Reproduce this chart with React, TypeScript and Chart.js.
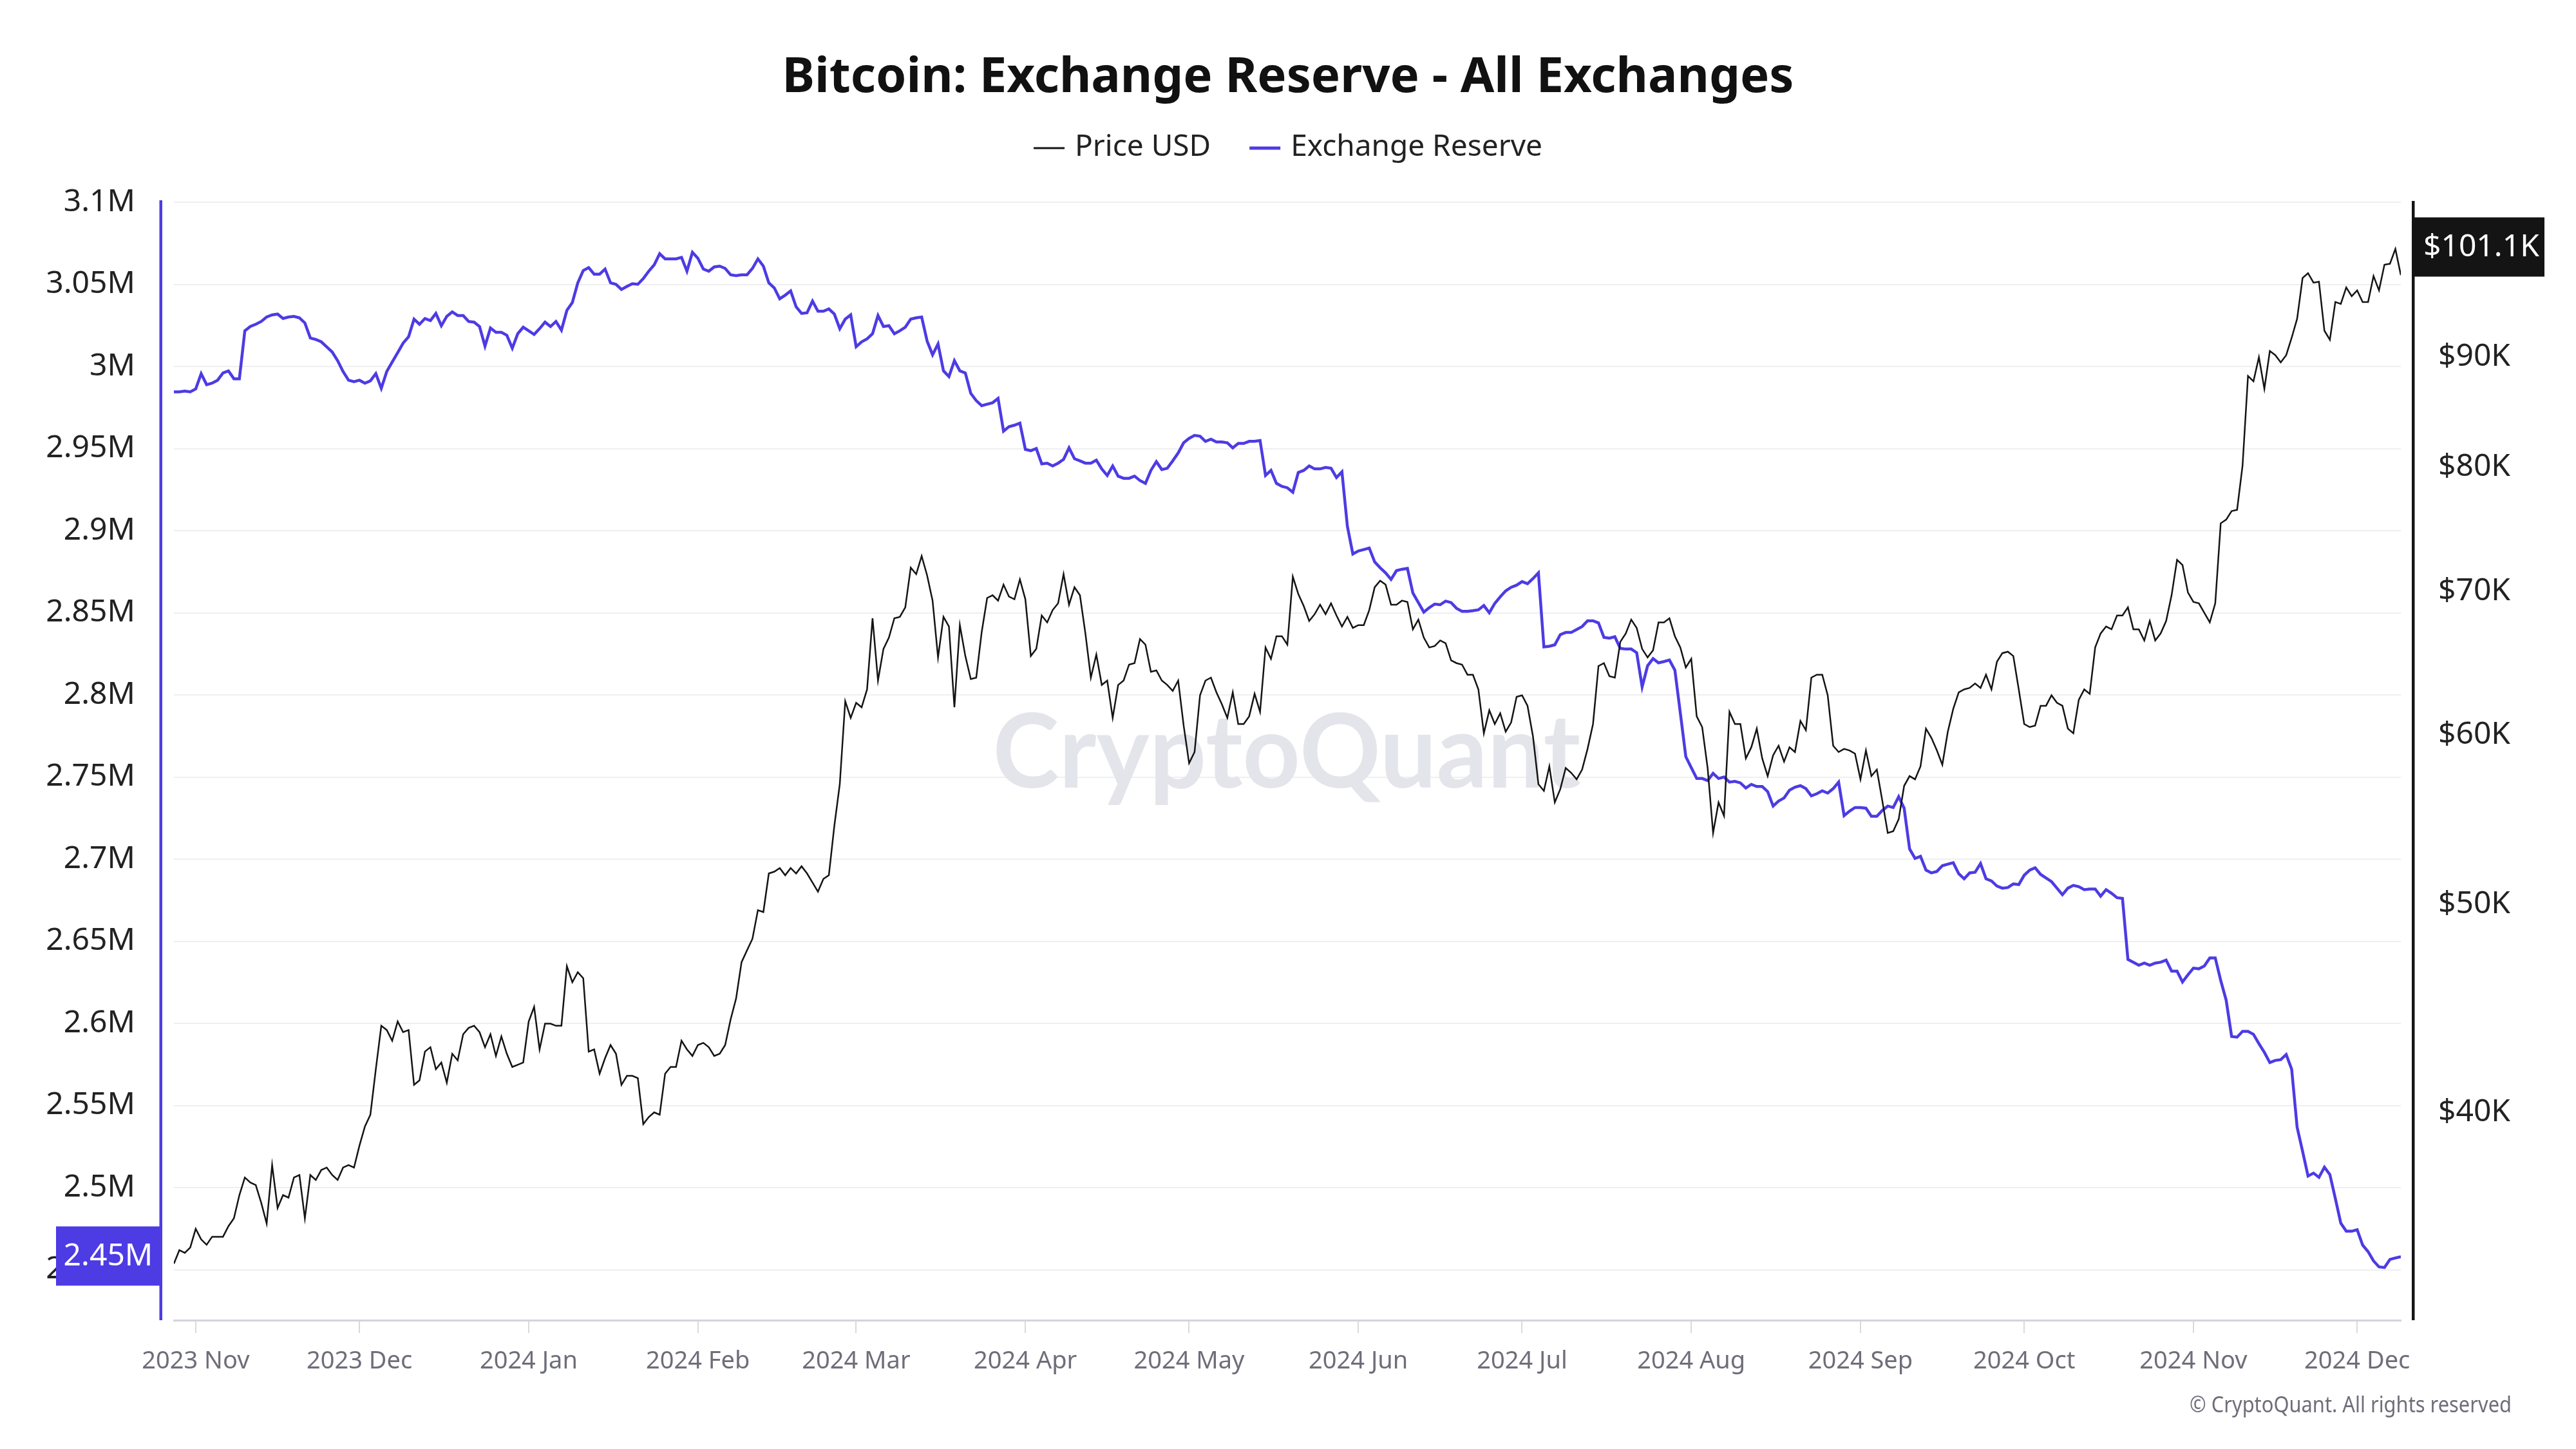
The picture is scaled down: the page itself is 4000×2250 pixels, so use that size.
import React, { useEffect, useRef } from "react";
import { Chart, registerables } from "chart.js";

Chart.register(...registerables);

// ---------------- data ----------------
const TITLE = "Bitcoin: Exchange Reserve - All Exchanges";
const SERIES_NAMES = ["Price USD", "Exchange Reserve"];
const START_DATE = "2023-10-28"; // first daily point

const X_TICK_DATES = [
  "2023-11-01", "2023-12-01", "2024-01-01", "2024-02-01", "2024-03-01", "2024-04-01", "2024-05-01",
  "2024-06-01", "2024-07-01", "2024-08-01", "2024-09-01", "2024-10-01", "2024-11-01", "2024-12-01",
];
const X_TICK_LABELS = [
  "2023 Nov", "2023 Dec", "2024 Jan", "2024 Feb", "2024 Mar", "2024 Apr", "2024 May",
  "2024 Jun", "2024 Jul", "2024 Aug", "2024 Sep", "2024 Oct", "2024 Nov", "2024 Dec",
];
const RESERVE_TICKS = [2.45, 2.5, 2.55, 2.6, 2.65, 2.7, 2.75, 2.8, 2.85, 2.9, 2.95, 3, 3.05, 3.1]; // millions BTC
const PRICE_TICKS = [40, 50, 60, 70, 80, 90]; // thousands USD

// Daily BTC price (USD thousands), 2023-10-28 .. 2024-12-09
const PRICE_USD_K = [
  // 2023 Oct 28-31
  34.0, 34.5, 34.4, 34.6,
  // 2023 Nov
  35.3, 34.9, 34.7, 35.0, 35.0, 35.0, 35.4, 35.7, 36.6, 37.3, 37.1, 37.0, 36.3, 35.5, 37.8,
  36.1, 36.6, 36.5, 37.3, 37.4, 35.7, 37.4, 37.2, 37.6, 37.7, 37.4, 37.2, 37.7, 37.8, 37.7,
  // 2023 Dec
  38.6, 39.4, 39.9, 41.9, 43.9, 43.7, 43.2, 44.1, 43.6, 43.7, 41.2, 41.4, 42.7, 42.9, 41.9,
  42.2, 41.3, 42.6, 42.3, 43.5, 43.8, 43.9, 43.6, 42.9, 43.5, 42.5, 43.4, 42.6, 42.0, 42.1, 42.2,
  // 2024 Jan
  44.1, 44.8, 42.8, 44.0, 44.0, 43.9, 43.9, 46.8, 46.0, 46.5, 46.2, 42.7, 42.8, 41.7, 42.4,
  43.0, 42.6, 41.2, 41.6, 41.6, 41.5, 39.5, 39.8, 40.0, 39.9, 41.7, 42.0, 42.0, 43.2, 42.8, 42.5,
  // 2024 Feb
  43.0, 43.1, 42.9, 42.5, 42.6, 43.0, 44.2, 45.2, 47.0, 47.6, 48.2, 49.7, 49.6, 51.7, 51.8,
  52.0, 51.6, 52.0, 51.7, 52.1, 51.7, 51.2, 50.7, 51.4, 51.6, 54.4, 56.9, 62.2, 61.1,
  // 2024 Mar
  62.1, 61.8, 63.0, 68.0, 63.6, 65.8, 66.6, 68.0, 68.1, 68.8, 71.8, 71.3, 72.7, 71.2, 69.3,
  65.2, 68.1, 67.4, 61.8, 67.5, 65.3, 63.7, 63.8, 67.0, 69.5, 69.7, 69.3, 70.5, 69.6, 69.4, 70.9,
  // 2024 Apr
  69.4, 65.3, 65.8, 68.2, 67.7, 68.6, 69.1, 71.3, 69.0, 70.3, 69.7, 66.9, 63.8, 65.4, 63.3,
  63.6, 61.1, 63.3, 63.6, 64.7, 64.8, 66.5, 66.1, 64.2, 64.3, 63.6, 63.3, 62.9, 63.6, 60.6,
  // 2024 May
  58.2, 58.9, 62.6, 63.6, 63.8, 62.8, 62.0, 61.1, 62.8, 60.7, 60.7, 61.2, 62.7, 61.5, 65.9,
  65.1, 66.7, 66.7, 66.1, 71.1, 69.8, 68.9, 67.8, 68.3, 69.0, 68.3, 69.1, 68.2, 67.4, 68.1, 67.3,
  // 2024 Jun
  67.5, 67.5, 68.6, 70.3, 70.8, 70.5, 69.0, 69.0, 69.3, 69.2, 67.2, 67.9, 66.6, 65.9, 66.0,
  66.4, 66.2, 65.0, 64.8, 64.7, 64.0, 64.0, 63.0, 60.1, 61.6, 60.7, 61.4, 60.2, 60.8, 62.5,
  // 2024 Jul
  62.6, 61.9, 59.9, 56.9, 56.5, 58.0, 55.8, 56.6, 57.9, 57.6, 57.2, 57.8, 59.1, 60.7, 64.6,
  64.8, 63.9, 63.8, 66.3, 66.9, 67.9, 67.3, 65.8, 65.2, 65.7, 67.7, 67.7, 68.0, 66.7, 65.9, 64.5,
  // 2024 Aug
  65.1, 61.2, 60.5, 57.9, 54.0, 55.8, 55.0, 61.5, 60.7, 60.7, 58.5, 59.2, 60.4, 58.5, 57.4,
  58.7, 59.3, 58.3, 59.2, 58.9, 60.9, 60.3, 63.8, 64.0, 64.0, 62.6, 59.3, 58.9, 59.1, 59.0, 58.8,
  // 2024 Sep
  57.2, 59.0, 57.4, 57.8, 55.9, 54.0, 54.1, 54.8, 56.8, 57.4, 57.2, 58.0, 60.4, 59.8, 59.0,
  58.1, 60.2, 61.7, 62.8, 63.0, 63.1, 63.4, 63.1, 64.0, 63.0, 64.9, 65.5, 65.6, 65.3, 63.0,
  // 2024 Oct
  60.7, 60.5, 60.6, 61.9, 61.9, 62.6, 62.1, 61.9, 60.4, 60.1, 62.3, 63.0, 62.7, 65.9, 66.9,
  67.4, 67.2, 68.2, 68.2, 68.8, 67.2, 67.2, 66.4, 67.8, 66.4, 66.9, 67.8, 69.7, 72.4, 72.0, 69.9,
  // 2024 Nov
  69.2, 69.1, 68.4, 67.7, 69.1, 75.3, 75.6, 76.3, 76.4, 80.1, 88.2, 87.7, 90.0, 87.0, 90.6,
  90.2, 89.5, 90.2, 91.9, 93.8, 98.0, 98.5, 97.5, 97.6, 92.6, 91.7, 95.5, 95.3, 97.0, 96.1,
  // 2024 Dec 1-9
  96.7, 95.5, 95.5, 98.2, 96.7, 99.4, 99.5, 101.1, 98.3,
];

// Daily exchange reserve (million BTC), same dates
const EXCHANGE_RESERVE_M = [
  // 2023 Oct 28-31
  2.9845, 2.9845, 2.985, 2.9845,
  // 2023 Nov
  2.9863, 2.9956, 2.9889, 2.9898, 2.9916, 2.996, 2.9973, 2.9925, 2.9925, 3.0217, 3.0243, 3.0257, 3.0274, 3.0301, 3.0314,
  3.0319, 3.0292, 3.0301, 3.0305, 3.0296, 3.0265, 3.0173, 3.0164, 3.015, 3.0119, 3.0088, 3.0035, 2.9969, 2.9916, 2.9907,
  // 2023 Dec
  2.9916, 2.9898, 2.9912, 2.9956, 2.9867, 2.9969, 3.0027, 3.0084, 3.0142, 3.0181, 3.0288, 3.0257, 3.0292, 3.0279, 3.0323,
  3.0248, 3.0305, 3.0332, 3.031, 3.031, 3.0274, 3.027, 3.0243, 3.0124, 3.0234, 3.0208, 3.0208, 3.019, 3.0111, 3.0199, 3.0239,
  // 2024 Jan
  3.0217, 3.0195, 3.023, 3.027, 3.0243, 3.0274, 3.0221, 3.0341, 3.0389, 3.0509, 3.0584, 3.0602, 3.0562, 3.0562, 3.0593,
  3.0509, 3.05, 3.0469, 3.0487, 3.0504, 3.05, 3.0535, 3.058, 3.0619, 3.0686, 3.0655, 3.0655, 3.0655, 3.0664, 3.058, 3.0695,
  // 2024 Feb
  3.0659, 3.0593, 3.058, 3.0606, 3.0611, 3.0597, 3.0558, 3.0553, 3.0558, 3.0558, 3.0597, 3.0655, 3.0611, 3.0509, 3.0478,
  3.0412, 3.0434, 3.046, 3.0363, 3.0323, 3.0327, 3.0398, 3.0336, 3.0336, 3.035, 3.0319, 3.023, 3.0288, 3.0314,
  // 2024 Mar
  3.012, 3.015, 3.0168, 3.0199, 3.031, 3.0243, 3.0248, 3.0199, 3.0217, 3.0239, 3.0288, 3.0296, 3.0301, 3.0155, 3.0071,
  3.0137, 2.9973, 2.9938, 3.0035, 2.9973, 2.996, 2.9836, 2.9792, 2.9761, 2.977, 2.9779, 2.9805, 2.9606, 2.9633, 2.9642, 2.9655,
  // 2024 Apr
  2.9495, 2.9487, 2.95, 2.9407, 2.9411, 2.9394, 2.9411, 2.9434, 2.9504, 2.9438, 2.9425, 2.9411, 2.9411, 2.9429, 2.9376,
  2.9336, 2.9394, 2.9332, 2.9319, 2.9319, 2.9332, 2.9305, 2.9288, 2.9367, 2.942, 2.9372, 2.938, 2.9425, 2.9473, 2.9535,
  // 2024 May
  2.9562, 2.958, 2.9575, 2.9544, 2.9557, 2.954, 2.954, 2.9535, 2.9504, 2.9531, 2.9531, 2.9544, 2.9544, 2.9549, 2.9336,
  2.9367, 2.9288, 2.927, 2.9261, 2.9234, 2.9354, 2.9367, 2.9394, 2.9376, 2.9376, 2.9385, 2.938, 2.9323, 2.9358, 2.9026, 2.8858,
  // 2024 Jun
  2.8876, 2.8885, 2.8894, 2.881, 2.8774, 2.8743, 2.8703, 2.8757, 2.8765, 2.877, 2.862, 2.8562, 2.8504, 2.8531, 2.8553,
  2.8549, 2.8571, 2.8562, 2.8527, 2.8509, 2.8509, 2.8513, 2.8518, 2.8544, 2.85, 2.8557, 2.8597, 2.8633, 2.8655, 2.8668,
  // 2024 Jul
  2.869, 2.8677, 2.8708, 2.8743, 2.8292, 2.8296, 2.8305, 2.8367, 2.838, 2.838, 2.8398, 2.8416, 2.8451, 2.8451, 2.8438,
  2.835, 2.8345, 2.8354, 2.8283, 2.8279, 2.8279, 2.8257, 2.8049, 2.8177, 2.8221, 2.8195, 2.8203, 2.8212, 2.815, 2.7889, 2.7624,
  // 2024 Aug
  2.7557, 2.7491, 2.7491, 2.7478, 2.7522, 2.7491, 2.75, 2.7469, 2.7473, 2.7464, 2.7433, 2.7455, 2.7442, 2.7442, 2.7411,
  2.7323, 2.7354, 2.7372, 2.742, 2.7438, 2.7447, 2.7429, 2.7385, 2.7398, 2.7416, 2.7402, 2.7429, 2.7469, 2.7265, 2.7292, 2.7314,
  // 2024 Sep
  2.7314, 2.731, 2.7261, 2.7261, 2.7296, 2.7323, 2.7314, 2.738, 2.731, 2.7062, 2.7004, 2.7017, 2.6933, 2.6916, 2.6925,
  2.696, 2.6969, 2.6978, 2.6911, 2.688, 2.6916, 2.692, 2.6973, 2.688, 2.6867, 2.6836, 2.6823, 2.6827, 2.6849, 2.6845,
  // 2024 Oct
  2.6902, 2.6933, 2.6947, 2.6907, 2.6885, 2.6863, 2.6823, 2.6783, 2.6823, 2.684, 2.6832, 2.6814, 2.6818, 2.6818, 2.6774,
  2.6814, 2.6792, 2.6765, 2.6761, 2.6389, 2.6372, 2.6354, 2.6367, 2.6354, 2.6367, 2.6372, 2.6385, 2.6318, 2.6318, 2.6252, 2.6296,
  // 2024 Nov
  2.6336, 2.6332, 2.6349, 2.6398, 2.6398, 2.6261, 2.6141, 2.592, 2.5916, 2.5951, 2.5951, 2.5933, 2.5876, 2.5823, 2.5761,
  2.5774, 2.5779, 2.581, 2.5721, 2.5367, 2.5221, 2.507, 2.5088, 2.5062, 2.5124, 2.5079, 2.4933, 2.4783, 2.4734, 2.4734,
  // 2024 Dec 1-9
  2.4743, 2.465, 2.461, 2.4553, 2.4517, 2.4513, 2.4562, 2.4571, 2.4579,
];

const PRICE_MARKER_K = 101.1; // value shown in the right-axis tag
const RESERVE_MARKER_LABEL = "2.45M"; // value shown in the left-axis tag

// ---------------- styling ----------------
const FONT = "'Noto Sans', 'Open Sans', sans-serif";
const PRICE_COLOR = "#141414";
const RESERVE_COLOR = "#4d3be4";
const AXIS_TEXT = "#222222";
const MUTED_TEXT = "#6e6e7a";

const DAY_MS = 86400000;
const dayOffset = (d: string) => Math.round((Date.parse(d) - Date.parse(START_DATE)) / DAY_MS);

const decorPlugin = {
  id: "decor",
  beforeDraw(chart: any) {
    const { ctx, width, height } = chart;
    ctx.save();
    ctx.fillStyle = "#ffffff";
    ctx.fillRect(0, 0, width, height);
    ctx.restore();
  },
  beforeDatasetsDraw(chart: any) {
    const { ctx } = chart;
    ctx.save();
    ctx.fillStyle = "#e4e4eb";
    ctx.font = `bold 160px Lato, ${FONT}`;
    ctx.textAlign = "center";
    ctx.textBaseline = "alphabetic";
    ctx.fillText("CryptoQuant", 1998, 1223, 913);
    ctx.restore();
  },
  afterDraw(chart: any) {
    const { ctx, chartArea } = chart;
    const yS = chart.scales.y;
    const pS = chart.scales.y1;
    ctx.save();

    // axis bars
    ctx.fillStyle = RESERVE_COLOR;
    ctx.fillRect(247.5, chartArea.top - 3, 4.5, chartArea.bottom - chartArea.top + 3);
    ctx.fillStyle = PRICE_COLOR;
    ctx.fillRect(3745, chartArea.top - 2, 4.5, chartArea.bottom - chartArea.top + 2);

    // value tags
    const lastR = EXCHANGE_RESERVE_M[EXCHANGE_RESERVE_M.length - 1];
    const ry = yS.getPixelForValue(lastR);
    ctx.fillStyle = RESERVE_COLOR;
    ctx.fillRect(87, ry - 47, 163, 92);
    ctx.fillStyle = "#ffffff";
    ctx.font = `48px ${FONT}`;
    ctx.textAlign = "center";
    ctx.textBaseline = "middle";
    ctx.fillText(RESERVE_MARKER_LABEL, 168, ry);

    const py = pS.getPixelForValue(PRICE_MARKER_K);
    ctx.fillStyle = PRICE_COLOR;
    ctx.fillRect(3749, py - 49, 202, 92);
    ctx.fillStyle = "#ffffff";
    ctx.textAlign = "left";
    ctx.fillText(`$${PRICE_MARKER_K}K`, 3763, py - 2);

    // title
    ctx.fillStyle = "#111111";
    ctx.font = `bold 76px ${FONT}`;
    ctx.textAlign = "center";
    ctx.textBaseline = "alphabetic";
    ctx.fillText(TITLE, 2000, 143);

    // legend
    ctx.font = `46px ${FONT}`;
    const lineLen = 48;
    const gapLT = 16;
    const gapItems = 60;
    const w1 = ctx.measureText(SERIES_NAMES[0]).width;
    const w2 = ctx.measureText(SERIES_NAMES[1]).width;
    const total = lineLen + gapLT + w1 + gapItems + lineLen + gapLT + w2;
    let x = 2000 - total / 2;
    const ly = 230;
    ctx.textAlign = "left";
    ctx.fillStyle = AXIS_TEXT;
    ctx.strokeStyle = PRICE_COLOR;
    ctx.lineWidth = 3;
    ctx.beginPath();
    ctx.moveTo(x, ly);
    ctx.lineTo(x + lineLen, ly);
    ctx.stroke();
    x += lineLen + gapLT;
    ctx.fillText(SERIES_NAMES[0], x, 242);
    x += w1 + gapItems;
    ctx.strokeStyle = RESERVE_COLOR;
    ctx.lineWidth = 5;
    ctx.beginPath();
    ctx.moveTo(x, ly);
    ctx.lineTo(x + lineLen, ly);
    ctx.stroke();
    x += lineLen + gapLT;
    ctx.fillText(SERIES_NAMES[1], x, 242);

    // copyright
    ctx.font = `34px ${FONT}`;
    ctx.fillStyle = MUTED_TEXT;
    ctx.textAlign = "right";
    ctx.fillText("© CryptoQuant. All rights reserved", 3900, 2193, 500);

    ctx.restore();
  },
};

export default function App() {
  const canvasRef = useRef<HTMLCanvasElement | null>(null);

  useEffect(() => {
    const canvas = canvasRef.current;
    if (!canvas) return;
    Chart.defaults.font.family = FONT;

    const priceData = PRICE_USD_K.map((v, i) => ({ x: i, y: v }));
    const reserveData = EXCHANGE_RESERVE_M.map((v, i) => ({ x: i, y: v }));
    const xTickValues = X_TICK_DATES.map(dayOffset);

    const chart = new Chart(canvas, {
      type: "line",
      data: {
        datasets: [
          {
            label: SERIES_NAMES[0],
            data: priceData,
            yAxisID: "y1",
            borderColor: PRICE_COLOR,
            borderWidth: 2.5,
            pointRadius: 0,
            tension: 0,
          },
          {
            label: SERIES_NAMES[1],
            data: reserveData,
            yAxisID: "y",
            borderColor: RESERVE_COLOR,
            borderWidth: 4.5,
            pointRadius: 0,
            tension: 0,
          },
        ],
      },
      options: {
        responsive: false,
        devicePixelRatio: 1,
        animation: false,
        events: [],
        parsing: false as any,
        layout: { padding: { top: 314, left: 0, right: 0, bottom: 0 } },
        plugins: {
          legend: { display: false },
          title: { display: false },
          tooltip: { enabled: false },
        },
        scales: {
          x: {
            type: "linear",
            min: 0,
            max: PRICE_USD_K.length - 1,
            afterBuildTicks: (scale: any) => {
              scale.ticks = xTickValues.map((v) => ({ value: v }));
            },
            afterFit: (scale: any) => {
              scale.height = 200;
            },
            grid: {
              drawOnChartArea: false,
              drawTicks: true,
              tickLength: 20,
              tickWidth: 2,
              tickColor: "#d9d9e1",
              color: "#d9d9e1",
              lineWidth: 2,
            },
            border: { display: true, color: "#d4d4dc", width: 3 },
            ticks: {
              autoSkip: false,
              maxRotation: 0,
              minRotation: 0,
              padding: 21,
              color: MUTED_TEXT,
              font: { size: 38, family: FONT },
              callback: (_v: any, i: number) => X_TICK_LABELS[i],
            },
          },
          y: {
            type: "linear",
            position: "left",
            min: 2.41922,
            max: 3.1,
            afterBuildTicks: (scale: any) => {
              scale.ticks = RESERVE_TICKS.map((v) => ({ value: v }));
            },
            afterFit: (scale: any) => {
              scale.width = 270;
            },
            grid: { color: "#efeff2", lineWidth: 2, drawTicks: false },
            border: { display: false },
            ticks: {
              padding: 60,
              color: AXIS_TEXT,
              font: { size: 48, family: FONT },
              callback: (v: any) => `${+Number(v).toFixed(2)}M`,
            },
          },
          y1: {
            type: "logarithmic",
            position: "right",
            min: 32.0,
            max: 106.3,
            afterBuildTicks: (scale: any) => {
              scale.ticks = PRICE_TICKS.map((v) => ({ value: v }));
            },
            afterFit: (scale: any) => {
              scale.width = 272;
            },
            grid: { drawOnChartArea: false, drawTicks: false },
            border: { display: false },
            ticks: {
              padding: 58,
              color: AXIS_TEXT,
              font: { size: 48, family: FONT },
              callback: (v: any) => `$${Number(v)}K`,
            },
          },
        },
      } as any,
      plugins: [decorPlugin],
    });

    return () => chart.destroy();
  }, []);

  return (
    <div style={{ position: "absolute", left: 0, top: 0, width: 4000, height: 2250, background: "#ffffff" }}>
      <canvas ref={canvasRef} width={4000} height={2250} style={{ display: "block", width: 4000, height: 2250 }} />
    </div>
  );
}
